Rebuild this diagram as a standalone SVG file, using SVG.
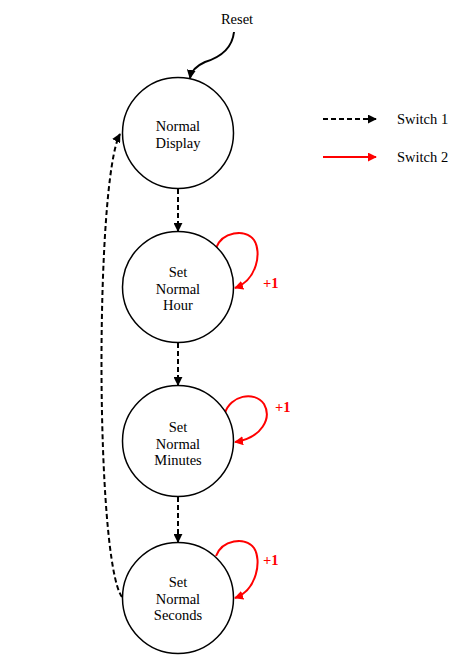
<svg xmlns="http://www.w3.org/2000/svg" width="475" height="662" viewBox="0 0 475 662">
<defs>
<style>
text{font-family:"Liberation Serif","Times New Roman",serif;font-size:14.5px;fill:#000}
.st circle{fill:#fff;stroke:#000;stroke-width:1.5}
.sw1{fill:none;stroke:#000;stroke-width:2;stroke-dasharray:5,3}
.sw2{fill:none;stroke:#ff0000;stroke-width:2}
.rst{fill:none;stroke:#000;stroke-width:2}
.inc{fill:#ff0000;font-weight:bold}
</style>
<marker id="ab" viewBox="0 0 10 10" refX="9" refY="5" markerWidth="4.5" markerHeight="4.5" orient="auto" markerUnits="strokeWidth"><path d="M0,0 L10,5 L0,10 z" fill="#000"/></marker>
<marker id="ar" viewBox="0 0 10 10" refX="9" refY="5" markerWidth="4.5" markerHeight="4.5" orient="auto" markerUnits="strokeWidth"><path d="M0,0 L10,5 L0,10 z" fill="#ff0000"/></marker>
</defs>
<rect width="475" height="662" fill="#fff"/>
<g id="connectors">
<path class="rst" d="M234,32 C232,50 218,58 205,62 C196,66 191,72 190,78" marker-end="url(#ab)"/>
<path class="sw1" d="M178,189 L178,231" marker-end="url(#ab)"/>
<path class="sw1" d="M178,343 L178,385" marker-end="url(#ab)"/>
<path class="sw1" d="M178,497 L178,542" marker-end="url(#ab)"/>
<path class="sw1" d="M122,597 C95,560 95,180 120,134" marker-end="url(#ab)"/>
<path class="sw2" d="M216,248 C222,232 245,228 254,240 C262,252 257,280 235,288" marker-end="url(#ar)"/>
<path class="sw2" d="M225,413 C230,396 254,390 264,404 C272,418 262,438 235,442" marker-end="url(#ar)"/>
<path class="sw2" d="M216,556 C222,540 245,536 254,548 C262,560 257,590 235,598" marker-end="url(#ar)"/>
<path class="sw1" d="M323,119 L376,119" marker-end="url(#ab)"/>
<path class="sw2" d="M323,157 L376,157" marker-end="url(#ar)"/>
</g>
<g id="reset"><text x="237" y="24" text-anchor="middle">Reset</text></g>
<g id="normal-display" class="st"><circle cx="178" cy="133" r="55.5"/><text x="178" y="131" text-anchor="middle">Normal</text><text x="178" y="148" text-anchor="middle">Display</text></g>
<g id="set-hour" class="st"><circle cx="178" cy="287" r="55.5"/><text x="178" y="277" text-anchor="middle">Set</text><text x="178" y="293.5" text-anchor="middle">Normal</text><text x="178" y="310" text-anchor="middle">Hour</text></g>
<g id="set-minutes" class="st"><circle cx="178" cy="441" r="55.5"/><text x="178" y="432" text-anchor="middle">Set</text><text x="178" y="448.5" text-anchor="middle">Normal</text><text x="178" y="465" text-anchor="middle">Minutes</text></g>
<g id="set-seconds" class="st"><circle cx="178" cy="598" r="55.5"/><text x="178" y="587" text-anchor="middle">Set</text><text x="178" y="603.5" text-anchor="middle">Normal</text><text x="178" y="620" text-anchor="middle">Seconds</text></g>
<g id="labels">
<text class="inc" x="263" y="288">+1</text>
<text class="inc" x="275" y="412">+1</text>
<text class="inc" x="263" y="565">+1</text>
</g>
<g id="legend">
<text x="397" y="124">Switch 1</text>
<text x="397" y="162">Switch 2</text>
</g>
</svg>
